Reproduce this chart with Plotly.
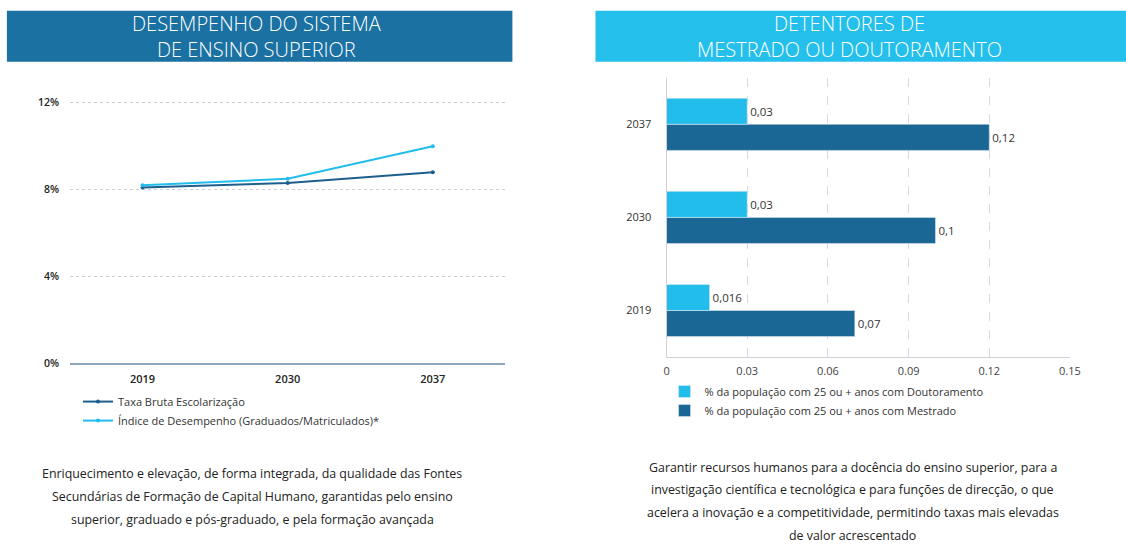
import plotly.graph_objects as go

# ---- data ----
years_line = ["2019", "2030", "2037"]
taxa_bruta = [8.1, 8.3, 8.8]
indice_desempenho = [8.2, 8.5, 10.0]
line_tick_vals = [0, 4, 8, 12]
line_tick_text = ["0%", "4%", "8%", "12%"]

years_bar = ["2019", "2030", "2037"]
doutoramento = [0.016, 0.03, 0.03]
mestrado = [0.07, 0.1, 0.12]
bar_tick_vals = [0, 0.03, 0.06, 0.09, 0.12, 0.15]
bar_tick_text = ["0", "0.03", "0.06", "0.09", "0.12", "0.15"]

left_text = [
    "Enriquecimento e elevação, de forma integrada, da qualidade das Fontes",
    "Secundárias de Formação de Capital Humano, garantidas pelo ensino",
    "superior, graduado e pós-graduado, e pela formação avançada",
]
right_text = [
    "Garantir recursos humanos para a docência do ensino superior, para a",
    "investigação científica e tecnológica e para funções de direcção, o que",
    "acelera a inovação e a competitividade, permitindo taxas mais elevadas",
    "de valor acrescentado",
]

W, H = 1126, 545
DARK = "#1a6796"
CYAN = "#22bdeb"
TXT = "#333333"
FONT = "Open Sans"

# calibration of the screenshot (observed = A*layout + B)
AX, BX = 0.9866, 3.1
AY, BY = 0.977, 4.3


def px(x):
    return (x - BX) / AX / W


def py(y):
    return 1 - (y - BY) / AY / H


def fmt(v):
    return ("%g" % v).replace(".", ",")


fig = go.Figure()

# Left: line chart
fig.add_trace(go.Scatter(
    x=years_line, y=taxa_bruta, name="Taxa Bruta Escolarização",
    mode="lines+markers", line=dict(color="#1c5f8c", width=2),
    marker=dict(size=4, color="#1c5f8c"), xaxis="x", yaxis="y", legend="legend"))
fig.add_trace(go.Scatter(
    x=years_line, y=indice_desempenho,
    name="Índice de Desempenho (Graduados/Matriculados)*",
    mode="lines+markers", line=dict(color=CYAN, width=2),
    marker=dict(size=4, color=CYAN), xaxis="x", yaxis="y", legend="legend"))

# Right: horizontal grouped bars
fig.add_trace(go.Bar(
    y=years_bar, x=mestrado, orientation="h",
    name="% da população com 25 ou + anos com Mestrado",
    marker=dict(color=DARK), text=[fmt(v) for v in mestrado],
    textposition="outside", textfont=dict(color=TXT, size=11.5, family=FONT),
    cliponaxis=False, xaxis="x2", yaxis="y2", legend="legend2", legendrank=2))
fig.add_trace(go.Bar(
    y=years_bar, x=doutoramento, orientation="h",
    name="% da população com 25 ou + anos com Doutoramento",
    marker=dict(color=CYAN), text=[fmt(v) for v in doutoramento],
    textposition="outside", textfont=dict(color=TXT, size=11.5, family=FONT),
    cliponaxis=False, xaxis="x2", yaxis="y2", legend="legend2", legendrank=1))

# line chart y range slightly above 12 so the 12% gridline shows
y_top = 12.1
top_px = 362 - (362 - 102) * y_top / 12

fig.update_layout(
    width=W, height=H, margin=dict(l=0, r=0, t=0, b=0),
    paper_bgcolor="white", plot_bgcolor="white",
    font=dict(family=FONT, color=TXT, size=11),
    barmode="group", bargap=0.44, bargroupgap=0,
    xaxis=dict(domain=[px(70), px(505)], type="category", range=[-0.5, 2.5],
               showgrid=False, showline=True, linecolor="#8ea9bd", linewidth=2,
               ticks="", tickfont=dict(size=11, color="#222222", weight=600),
               ticklabelstandoff=5, anchor="y"),
    yaxis=dict(domain=[py(362), py(top_px)], range=[0, y_top], tickvals=line_tick_vals,
               ticktext=line_tick_text, showgrid=True, gridcolor="#cfcfcf",
               griddash="dot", zeroline=False, showline=False,
               tickfont=dict(size=10.5, color="#222222", weight=600),
               ticklabelstandoff=10, anchor="x"),
    xaxis2=dict(domain=[px(666), px(1069)], range=[0, 0.15], tickvals=bar_tick_vals,
                ticktext=bar_tick_text, showgrid=True, gridcolor="#d8d8e0",
                griddash="dash", zeroline=False, showline=True, linecolor="#d0d0dc",
                tickfont=dict(size=11, color="#444444"), ticklabelstandoff=4,
                anchor="y2"),
    yaxis2=dict(domain=[py(356), py(77)], type="category", range=[-0.5, 2.5],
                showgrid=False, showline=True, linecolor="#d0d0dc",
                tickfont=dict(size=11, color=TXT), ticklabelstandoff=12, anchor="x2"),
    legend=dict(x=px(78), y=py(386), xanchor="left", yanchor="top",
                bgcolor="rgba(0,0,0,0)", font=dict(size=11, color=TXT),
                itemwidth=30, tracegroupgap=0),
    legend2=dict(x=px(664), y=py(376), xanchor="left", yanchor="top",
                 bgcolor="rgba(0,0,0,0)", font=dict(size=11, color=TXT),
                 itemwidth=30, tracegroupgap=0),
    showlegend=True,
)

# Title banners
fig.add_shape(type="rect", xref="paper", yref="paper", x0=px(7), x1=px(512),
              y0=py(61), y1=py(10), fillcolor="#1a71a2", line=dict(width=0), layer="below")
fig.add_shape(type="rect", xref="paper", yref="paper", x0=px(595), x1=1.02,
              y0=py(61), y1=py(10), fillcolor="#25bfec", line=dict(width=0), layer="below")

fig.add_annotation(x=px(256), y=py(36), xref="paper", yref="paper",
                   showarrow=False, xanchor="center", yanchor="middle", align="center",
                   text="DESEMPENHO DO SISTEMA<br>DE ENSINO SUPERIOR",
                   font=dict(family=FONT, size=20, color="white", weight=300))
fig.add_annotation(x=px(849), y=py(36), xref="paper", yref="paper",
                   showarrow=False, xanchor="center", yanchor="middle", align="center",
                   text="DETENTORES DE<br>MESTRADO OU DOUTORAMENTO",
                   font=dict(family=FONT, size=20, color="white", weight=300))

# Description texts (one annotation per line to match the line spacing)
for i, t in enumerate(left_text):
    fig.add_annotation(x=px(252), y=py(472 + 23 * i), xref="paper", yref="paper",
                       showarrow=False, xanchor="center", yanchor="middle", text=t,
                       font=dict(family=FONT, size=12.4, color="#222222"))
for i, t in enumerate(right_text):
    fig.add_annotation(x=px(852), y=py(466 + 22.8 * i), xref="paper", yref="paper",
                       showarrow=False, xanchor="center", yanchor="middle", text=t,
                       font=dict(family=FONT, size=12.4, color="#222222"))

fig.write_html(
    "out.html",
    config={"displayModeBar": False},
    post_script=("document.documentElement.style.margin='0';"
                 "document.body.style.margin='0';"
                 "document.documentElement.style.overflow='hidden';"
                 "document.body.style.overflow='hidden';"),
)
